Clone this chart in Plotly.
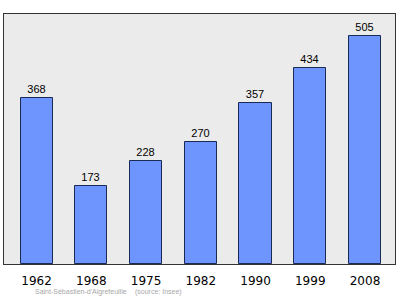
import plotly.graph_objects as go

years = ["1962", "1968", "1975", "1982", "1990", "1999", "2008"]
population = [368, 173, 228, 270, 357, 434, 505]
positions = list(range(len(years)))

fig = go.Figure()
fig.add_trace(go.Bar(
    x=positions, y=population, width=0.585,
    marker=dict(color="#6e95fd", line=dict(color="#1a2a55", width=1)),
    text=[str(v) for v in population], textposition="outside",
    textfont=dict(family="Liberation Sans", size=11, color="#000000"),
    cliponaxis=False,
))
fig.update_layout(
    width=400, height=299,
    margin=dict(l=4, r=5, t=14, b=35),
    paper_bgcolor="white", plot_bgcolor="#ebebeb",
    showlegend=False, bargap=0,
    xaxis=dict(range=[-0.594, 6.548], tickmode="array", tickvals=positions, ticktext=years,
               showgrid=False, zeroline=False, showline=True, mirror=True,
               linecolor="#333333", linewidth=1, ticks="", ticklabelstandoff=6,
               tickfont=dict(family="DejaVu Sans", size=12, color="#000000")),
    yaxis=dict(range=[0, 554], showgrid=False, zeroline=False, showticklabels=False,
               showline=True, mirror=True, linecolor="#333333", linewidth=1, ticks=""),
    annotations=[
        dict(text="Saint-Sébastien-d'Aigrefeuille", xref="paper", yref="paper",
             x=29/391, y=-0.112, xanchor="left", yanchor="middle", showarrow=False,
             font=dict(family="Liberation Sans", size=7, color="#a8a8a8")),
        dict(text="(source: Insee)", xref="paper", yref="paper",
             x=129/391, y=-0.112, xanchor="left", yanchor="middle", showarrow=False,
             font=dict(family="Liberation Sans", size=7, color="#a8a8a8")),
    ],
)
fig.write_html("out.html")
